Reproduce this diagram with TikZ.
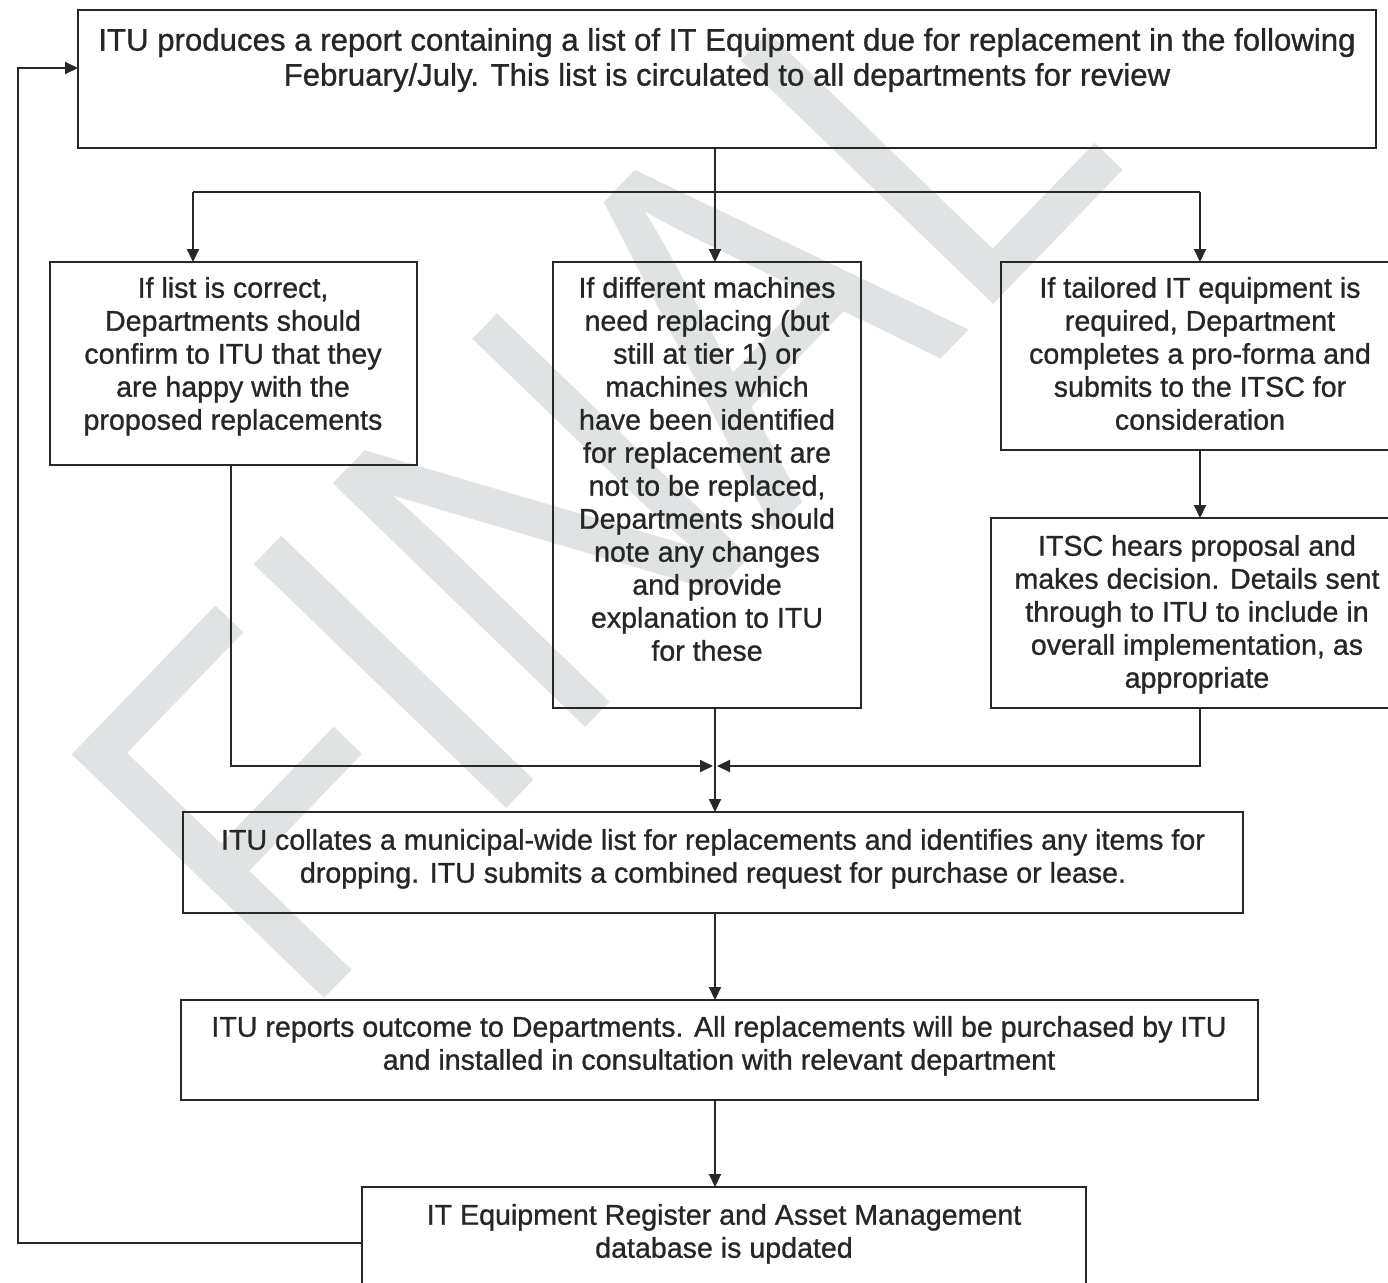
\documentclass[tikz,border=0pt]{standalone}
\usepackage{fontspec}
\setmainfont{Liberation Sans}[FakeBold=0]
\newfontfamily\scanfont{Liberation Sans}[FakeBold=0.9]
\newfontfamily\wmfont{Liberation Sans}
\usetikzlibrary{arrows.meta}
\definecolor{ink}{RGB}{40,40,40}
\definecolor{txt}{RGB}{38,38,38}
\definecolor{wmgrey}{RGB}{223,227,227}
\tikzset{
  box/.style={draw=ink, line width=1pt, inner sep=0pt, outer sep=0pt, rectangle},
  lbl/.style={inner sep=0pt, outer sep=0pt, align=center, text=txt,
     font=\scanfont\fontsize{14.3pt}{16.5pt}\selectfont, anchor=north},
  bigl/.style={lbl, font=\scanfont\fontsize{15.6pt}{17.5pt}\selectfont},
  line/.style={draw=ink, line width=1pt},
  arr/.style={line, -{Triangle[length=6.5pt,width=6pt]}},
  wm/.style={inner sep=0pt, outer sep=0pt, text=wmgrey,
     font=\wmfont\fontsize{255pt}{255pt}\selectfont}
}
\begin{document}
\begin{tikzpicture}[x=0.5pt,y=-0.5pt]
\useasboundingbox (0,0) rectangle (1388,1282);
\fill[white] (0,0) rectangle (1388,1282);
% watermark
\node[wm, rotate=46, anchor=base west] (wmk) at (300,1023) {\scalebox{0.83}[1]{FINAL}};
% boxes
\node[box, minimum width=649pt, minimum height=69pt] (T) at (727,79) {};
\node[box, minimum width=183.5pt, minimum height=101.5pt] (L) at (233.5,363.5) {};
\node[box, minimum width=154pt, minimum height=223pt] (M) at (707,485) {};
\node[box, minimum width=199.5pt, minimum height=94pt] (R) at (1200.5,356) {};
\node[box, minimum width=204.5pt, minimum height=95pt] (R2) at (1195.5,613) {};
\node[box, minimum width=530pt, minimum height=50.5pt] (C) at (713,862.5) {};
\node[box, minimum width=538.5pt, minimum height=50pt] (P) at (719.5,1050) {};
\node[box, minimum width=362pt, minimum height=56pt] (G) at (724,1243) {};
% texts
\node[bigl] (Tt) at (727,28) {ITU produces a report containing a list of IT Equipment due for replacement in the following\\February/July. This list is circulated to all departments for review};
\node[lbl] (Lt) at (233,277) {If list is correct,\\Departments should\\confirm to ITU that they\\are happy with the\\proposed replacements};
\node[lbl] (Mt) at (707,277) {If different machines\\need replacing (but\\still at tier 1) or\\machines which\\have been identified\\for replacement are\\not to be replaced,\\Departments should\\note any changes\\and provide\\explanation to ITU\\for these};
\node[lbl] (Rt) at (1200,277) {If tailored IT equipment is\\required, Department\\completes a pro-forma and\\submits to the ITSC for\\consideration};
\node[lbl] (R2t) at (1197,535) {ITSC hears proposal and\\makes decision. Details sent\\through to ITU to include in\\overall implementation, as\\appropriate};
\node[lbl] (Ct) at (713,829) {ITU collates a municipal-wide list for replacements and identifies any items for\\dropping. ITU submits a combined request for purchase or lease.};
\node[lbl] (Pt) at (719,1016) {ITU reports outcome to Departments. All replacements will be purchased by ITU\\and installed in consultation with relevant department};
\node[lbl] (Gt) at (724,1204) {IT Equipment Register and Asset Management\\database is updated};
% helper coordinates
\coordinate (s) at (715,192);
\coordinate (sl) at (193,192);
\coordinate (sr) at (1200,192);
\coordinate (j) at (715,766);
\coordinate (lx) at (231,766);
\coordinate (lb) at (18,1243);
\coordinate (lt) at (18,68);
% connectors
\draw[line] (T.south -| s) -- (s);
\draw[line] (sl) -- (sr);
\draw[arr] (sl) -- (L.north -| sl);
\draw[arr] (s) -- (M.north -| s);
\draw[arr] (sr) -- (R.north -| sr);
\draw[arr] (R.south -| sr) -- (R2.north -| sr);
\draw[arr] (L.south -| lx) |- ([xshift=-1pt]j);
\draw[arr] (R2.south -| sr) |- ([xshift=1pt]j);
\draw[arr] (M.south -| s) -- (C.north -| s);
\draw[arr] (C.south -| s) -- (P.north -| s);
\draw[arr] (P.south -| s) -- (G.north -| s);
\draw[arr] (G.west |- lb) -- (lb) -- (lt) -- (T.west |- lt);
\end{tikzpicture}
\end{document}
